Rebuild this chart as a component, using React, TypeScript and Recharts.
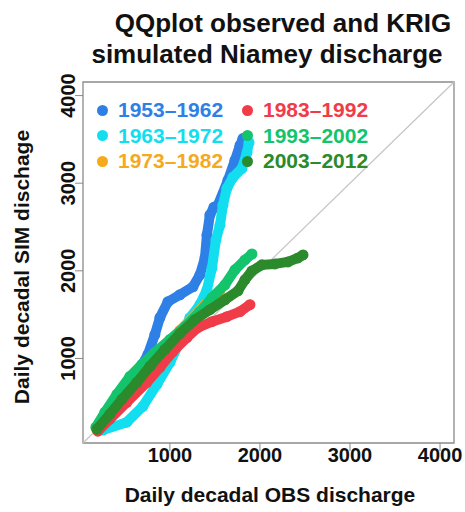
import {
  ReferenceArea,
  ReferenceLine,
  Scatter,
  ScatterChart,
  XAxis,
  YAxis,
} from 'recharts';

const axisTicks = [1000, 2000, 3000, 4000];
const axisDomain = [35, 4155];

const obs1953 = [189, 389, 611, 756, 833, 889, 978, 1111, 1256, 1333, 1389, 1411, 1444, 1489, 1533, 1644, 1722, 1778, 1811];
const sim1953 = [193, 477, 784, 1045, 1272, 1466, 1647, 1727, 1818, 1954, 2147, 2408, 2636, 2726, 2749, 3033, 3260, 3431, 3510];

const obs1963 = [256, 522, 700, 856, 1000, 1111, 1222, 1333, 1411, 1467, 1511, 1556, 1589, 1633, 1700, 1800, 1856, 1878];
const sim1963 = [182, 273, 454, 704, 954, 1193, 1465, 1613, 1783, 2033, 2351, 2522, 2749, 2942, 3067, 3169, 3351, 3465];

const obs1973 = [189, 444, 778, 1111, 1389, 1560];
const sim1973 = [193, 545, 945, 1320, 1613, 1720];

const obs1983 = [200, 333, 522, 744, 889, 1033, 1189, 1311, 1467, 1633, 1778, 1889];
const sim1983 = [170, 307, 500, 727, 897, 1079, 1238, 1352, 1420, 1477, 1534, 1613];

const obs1993 = [178, 278, 411, 556, 689, 833, 1000, 1167, 1333, 1467, 1611, 1722, 1833, 1911];
const sim1993 = [216, 386, 591, 795, 932, 1068, 1215, 1363, 1534, 1693, 1840, 2011, 2124, 2192];

const obs2003 = [189, 333, 467, 633, 778, 944, 1111, 1278, 1444, 1611, 1756, 1833, 1911, 2022, 2167, 2311, 2422, 2478];
const sim2003 = [193, 364, 534, 727, 909, 1102, 1284, 1443, 1556, 1670, 1772, 1897, 1999, 2068, 2079, 2102, 2147, 2181];

const series = [
  { name: '1953–1962', obs: obs1953, sim: sim1953, color: '#2f80e6' },
  { name: '1963–1972', obs: obs1963, sim: sim1963, color: '#12def0' },
  { name: '1973–1982', obs: obs1973, sim: sim1973, color: '#f5aa1e' },
  { name: '1983–1992', obs: obs1983, sim: sim1983, color: '#f03c48' },
  { name: '1993–2002', obs: obs1993, sim: sim1993, color: '#14c46c' },
  { name: '2003–2012', obs: obs2003, sim: sim2003, color: '#2b8a2b' },
];

// legend order is column by column
const legendCols = [
  [series[0], series[1], series[2]],
  [series[3], series[4], series[5]],
];

const font = '"Liberation Sans", Arial, sans-serif';

const XTick = (props: any) => (
  <text x={props.x} y={462} textAnchor="middle" fontFamily={font} fontWeight="bold" fontSize={20} fill="#111">
    {props.payload.value}
  </text>
);

const YTick = (props: any) => (
  <text
    x={75}
    y={props.y}
    transform={`rotate(-90, 75, ${props.y})`}
    textAnchor="middle"
    fontFamily={font}
    fontWeight="bold"
    fontSize={20}
    fill="#111"
  >
    {props.payload.value}
  </text>
);

export default function App() {
  return (
    <div style={{ position: 'absolute', left: 0, top: 0, width: 465, height: 512, background: '#fff', fontFamily: font }}>
      <svg width={465} height={80} style={{ position: 'absolute', left: 0, top: 0 }}>
        <text x={283} y={32} textAnchor="middle" fontWeight="bold" fontSize={26} fontFamily={font} fill="#111">
          QQplot observed and KRIG
        </text>
        <text x={267} y={63} textAnchor="middle" fontWeight="bold" fontSize={26} fontFamily={font} fill="#111">
          simulated Niamey discharge
        </text>
      </svg>
      <ScatterChart width={465} height={512} margin={{ top: 82, right: 11, bottom: 0, left: 0 }} style={{ position: 'absolute', left: 0, top: 0 }}>
        <XAxis
          type="number"
          dataKey="obs"
          domain={axisDomain}
          ticks={axisTicks}
          allowDataOverflow
          height={69}
          axisLine={false}
          tickSize={8}
          tickLine={{ stroke: '#888' }}
          tick={<XTick />}
        />
        <YAxis
          type="number"
          dataKey="sim"
          domain={axisDomain}
          ticks={axisTicks}
          allowDataOverflow
          width={83}
          axisLine={false}
          tickSize={8}
          tickLine={{ stroke: '#888' }}
          tick={<YTick />}
        />
        <ReferenceArea x1={axisDomain[0]} x2={axisDomain[1]} y1={axisDomain[0]} y2={axisDomain[1]} fill="none" stroke="#8a8a8a" strokeWidth={1.3} fillOpacity={0} />
        <ReferenceLine
          segment={[
            { x: axisDomain[0], y: axisDomain[0] },
            { x: axisDomain[1], y: axisDomain[1] },
          ]}
          stroke="#c4c4c4"
          strokeWidth={1.2}
        />
        {series.map((s) => (
          <Scatter
            key={s.name}
            name={s.name}
            data={s.obs.map((o, i) => ({ obs: o, sim: s.sim[i] }))}
            isAnimationActive={false}
            line={{ stroke: s.color, strokeWidth: 10, strokeLinejoin: 'round', strokeLinecap: 'round' }}
            shape={(p: any) => <circle cx={p.cx} cy={p.cy} r={5.5} fill={s.color} />}
          />
        ))}
      </ScatterChart>
      <div
        style={{ position: 'absolute', left: 0, top: 0, width: 465, height: 512, pointerEvents: 'none' }}
      >
        {legendCols.map((col, ci) =>
          col.map((s, ri) => (
            <div
              key={s.name}
              style={{
                position: 'absolute',
                left: ci === 0 ? 97 : 242,
                top: 97 + ri * 25.5,
                height: 26,
                display: 'flex',
                alignItems: 'center',
                color: s.color,
                fontWeight: 'bold',
                fontSize: 21,
                whiteSpace: 'nowrap',
              }}
            >
              <span style={{ display: 'inline-block', width: 11, height: 11, borderRadius: '50%', background: s.color, marginRight: 10 }} />
              {s.name}
            </div>
          )),
        )}
        <div style={{ position: 'absolute', left: 0, width: 465, top: 483, textAlign: 'center', paddingLeft: 75, boxSizing: 'border-box', fontWeight: 'bold', fontSize: 21, color: '#111' }}>
          Daily decadal OBS discharge
        </div>
        <div
          style={{
            position: 'absolute',
            left: 22,
            top: 267,
            transform: 'translate(-50%, -50%) rotate(-90deg)',
            fontWeight: 'bold',
            fontSize: 21,
            color: '#111',
            whiteSpace: 'nowrap',
          }}
        >
          Daily decadal SIM dischage
        </div>
      </div>
    </div>
  );
}
